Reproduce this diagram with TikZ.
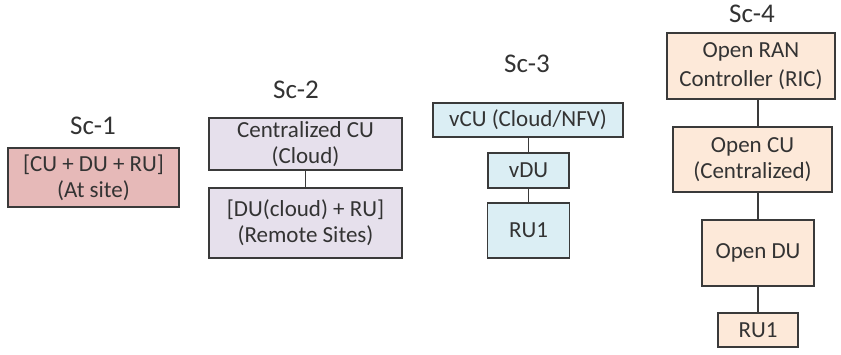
\documentclass[tikz,border=0pt]{standalone}
\usepackage{fontspec}
\setmainfont{Carlito}
\definecolor{edge}{HTML}{3A3A3A}
\definecolor{ink}{HTML}{333333}
\definecolor{scA}{HTML}{E6B9B8}
\definecolor{scB}{HTML}{E6E0EC}
\definecolor{scC}{HTML}{DBEEF4}
\definecolor{scD}{HTML}{FDE9D9}
\tikzset{
  blk/.style={draw=edge, line width=1.7pt, text=ink, align=center, inner sep=0pt,
    font=\fontsize{23}{26}\selectfont},
  ttl/.style={text=ink, font=\fontsize{27}{30}\selectfont, inner sep=0pt},
  link/.style={draw=edge, line width=1.6pt},
}
\begin{document}
\begin{tikzpicture}[x=1pt,y=-1pt]
\useasboundingbox (0,0) rectangle (841,354);

% Sc-1: everything on site
\node[ttl] (t1) at (93,126) {Sc-1};
\node[blk, fill=scA, minimum width=171pt, minimum height=59pt] (a1) at (93.5,177.5)
  {[CU + DU + RU]\\(At site)};

% Sc-2: centralized CU
\node[ttl] (t2) at (296,90) {Sc-2};
\node[blk, fill=scB, minimum width=193pt, minimum height=52pt] (b1) at (305.5,144)
  {Centralized CU\\(Cloud)};
\node[blk, fill=scB, minimum width=193pt, minimum height=70pt] (b2) at (305.5,223)
  {[DU(cloud) + RU]\\(Remote Sites)};
\draw[link] (b1) -- (b2);

% Sc-3: virtualized CU / DU
\node[ttl] (t3) at (527,64) {Sc-3};
\node[blk, fill=scC, minimum width=190pt, minimum height=34pt] (c1) at (528,120)
  {vCU (Cloud/NFV)};
\node[blk, fill=scC, minimum width=81pt, minimum height=35pt] (c2) at (528.5,170.5) {vDU};
\node[blk, fill=scC, minimum width=82pt, minimum height=55pt] (c3) at (528.5,230.5) {RU1};
\draw[link] (c1.south -| c2.center) -- (c2.north);
\draw[link] (c2) -- (c3);

% Sc-4: Open RAN
\node[ttl] (t4) at (752,14) {Sc-4};
\node[blk, fill=scD, minimum width=168pt, minimum height=66pt] (d1) at (751,66)
  {Open RAN\\[3pt]Controller (RIC)};
\node[blk, fill=scD, minimum width=159pt, minimum height=65pt] (d2) at (752.5,159.5)
  {Open CU\\(Centralized)};
\node[blk, fill=scD, minimum width=112pt, minimum height=66pt] (d3) at (758,253) {Open DU};
\node[blk, fill=scD, minimum width=80pt, minimum height=34pt] (d4) at (758,330) {RU1};
\draw[link] (d1.south -| d3.center) -- (d2.north -| d3.center);
\draw[link] (d2.south -| d3.center) -- (d3.north);
\draw[link] (d3) -- (d4);
\end{tikzpicture}
\end{document}
